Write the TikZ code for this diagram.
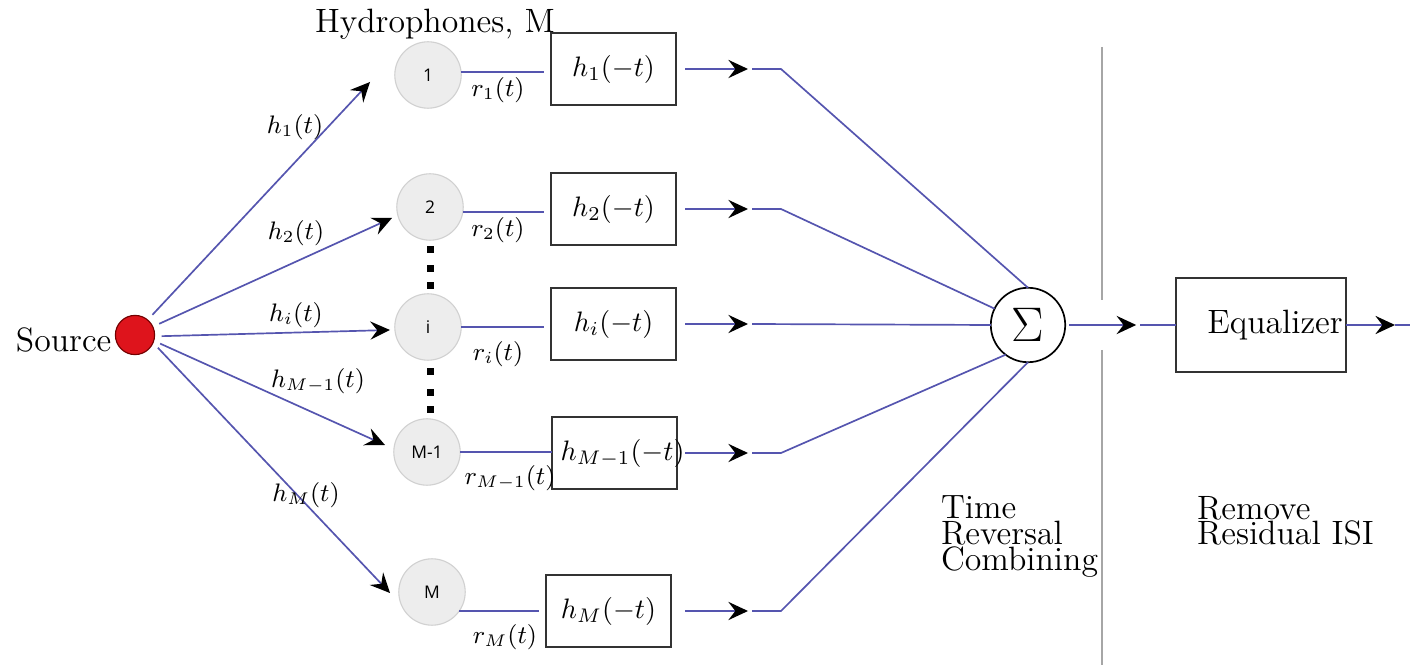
\documentclass[tikz,border=0pt]{standalone}
\usepackage{fontspec}
\newfontfamily\hydfont{Open Sans}
\usetikzlibrary{arrows.meta}
\definecolor{wireblue}{RGB}{85,85,175}
\definecolor{hydgray}{RGB}{237,237,237}
\definecolor{srcred}{RGB}{222,20,28}
\begin{document}
\begin{tikzpicture}[x=0.0125cm,y=-0.0125cm,inner sep=0pt,outer sep=0pt,
wire/.style={draw=wireblue,line width=0.6pt},
wirearrow/.style={-{Stealth[length=7pt,width=6.5pt,inset=2.5pt,black]}},
hyd/.style={draw=black!18,fill=hydgray,circle,minimum size=0.83cm,font=\hydfont\fontsize{6.2}{7}\selectfont},
filt/.style={draw=black!80,rectangle,minimum width=1.5625cm,minimum height=0.9cm,line width=0.6pt},
lab/.style={font=\small}]

\useasboundingbox (0,0) rectangle (1421,665);

\draw (135,335) node[draw=red!45!black,fill=srcred,circle,minimum size=0.49cm] (src) {};
\draw (src.west) ++(-4,5) node[left,font=\large] (srctext) {Source};
\draw (435,24) node[font=\large] (hydtext) {Hydrophones, M};

\draw (428,75) node[hyd] (c1) {1};
\draw (430,207) node[hyd] (c2) {2};
\draw (428,327) node[hyd] (ci) {i};
\draw (427,452) node[hyd] (cM1) {M-1};
\draw (432,592) node[hyd] (cM) {M};
\foreach \y in {250,269,286,372,393,410}
  \fill (430,\y) ++(-3.5,-3.5) rectangle ++(7,7);

\coordinate (t1) at (370,82);
\coordinate (t2) at (392,218);
\coordinate (ti) at (390,330);
\coordinate (tM1) at (385,445);
\coordinate (tM) at (390,593);
\draw[wire,wirearrow,shorten <=2.5pt] (src.50) -- (t1);
\draw[wire,wirearrow,shorten <=2.5pt] (src.25) -- (t2);
\draw[wire,wirearrow,shorten <=2.5pt] (src.-4) -- (ti);
\draw[wire,wirearrow,shorten <=2.5pt] (src.-17) -- (tM1);
\draw[wire,wirearrow,shorten <=2.5pt] (src.-23) -- (tM);
\draw (295,127) node[lab] (lh1) {$h_1(t)$};
\draw (296,233) node[lab] (lh2) {$h_2(t)$};
\draw (296,315) node[lab] (lhi) {$h_i(t)$};
\draw (318,381) node[lab] (lhM1) {$h_{M-1}(t)$};
\draw (306,495) node[lab] (lhM) {$h_M(t)$};

\draw (613.5,69) node[filt] (b1) {$h_1(-t)$};
\draw (613.5,209) node[filt] (b2) {$h_2(-t)$};
\draw (613.5,324) node[filt] (bi) {$h_i(-t)$};
\draw (614.5,453) node[filt,label={[xshift=0.1cm]center:$h_{M-1}(-t)$}] (bM1) {};
\draw (608.5,611) node[filt] (bM) {$h_M(-t)$};
\draw[wire,shorten >=2.5pt] (c1.5) -- (c1.5 -| b1.west);
\draw[wire,shorten >=2.5pt] (c2.-9) -- (c2.-9 -| b2.west);
\draw[wire,shorten >=2.5pt] (ci.east) -- (ci.east -| bi.west);
\draw[wire] (cM1.east) -- (cM1.east -| bM1.west);
\draw[wire,shorten >=2.5pt] (cM.-35) -- (cM.-35 -| bM.west);
\draw (498,90) node[lab] (lr1) {$r_1(t)$};
\draw (498,230) node[lab] (lr2) {$r_2(t)$};
\draw (498,354) node[lab] (lri) {$r_i(t)$};
\draw (510,478) node[lab] (lrM1) {$r_{M-1}(t)$};
\draw (505,637) node[lab] (lrM) {$r_M(t)$};

\draw (1028,325) node[draw,circle,minimum size=0.93cm,line width=0.6pt,font=\LARGE] (sum) {$\Sigma$};
\coordinate (xa) at (685,0);
\coordinate (xt) at (748,0);
\coordinate (xk) at (752,0);
\coordinate (xb) at (781,0);
\draw[wire,wirearrow] (b1.east -| xa) -- (b1.east -| xt);
\draw[wire] (b1.east -| xk) -- (b1.east -| xb) -- (sum.90);
\draw[wire,wirearrow] (b2.east -| xa) -- (b2.east -| xt);
\draw[wire] (b2.east -| xk) -- (b2.east -| xb) -- (sum.154);
\draw[wire,wirearrow] (bi.east -| xa) -- (bi.east -| xt);
\draw[wire] (bi.east -| xk) -- (sum.180);
\draw[wire,wirearrow] (bM1.east -| xa) -- (bM1.east -| xt);
\draw[wire] (bM1.east -| xk) -- (bM1.east -| xb) -- (sum.233);
\draw[wire,wirearrow] (bM.east -| xa) -- (bM.east -| xt);
\draw[wire] (bM.east -| xk) -- (bM.east -| xb) -- (sum.270);

\draw[black!35,line width=0.9pt] (1102,47) -- (1102,300) (1102,350) -- (1102,665);

\draw (1261,325) node[filt,minimum width=2.125cm,minimum height=1.175cm,font=\large] (eq) {\hspace{0.35cm}Equalizer};
\draw[wire,wirearrow] (sum.east) ++(4,0) -- ++(67,0);
\draw[wire] (sum.east) ++(75,0) -- (eq.west);
\draw[wire,wirearrow] (eq.east) -- ++(49,0);
\draw[wire] (eq.east) ++(49,0) -- ++(15,0);

\draw (941,496) node[anchor=north west,align=left,font=\large] (trc) {Time\\[-4.9pt]Reversal\\[-4.9pt]Combining};
\draw (1197,496) node[anchor=north west,align=left,font=\large] (isi) {Remove\\[-4.9pt]Residual ISI};
\end{tikzpicture}
\end{document}
